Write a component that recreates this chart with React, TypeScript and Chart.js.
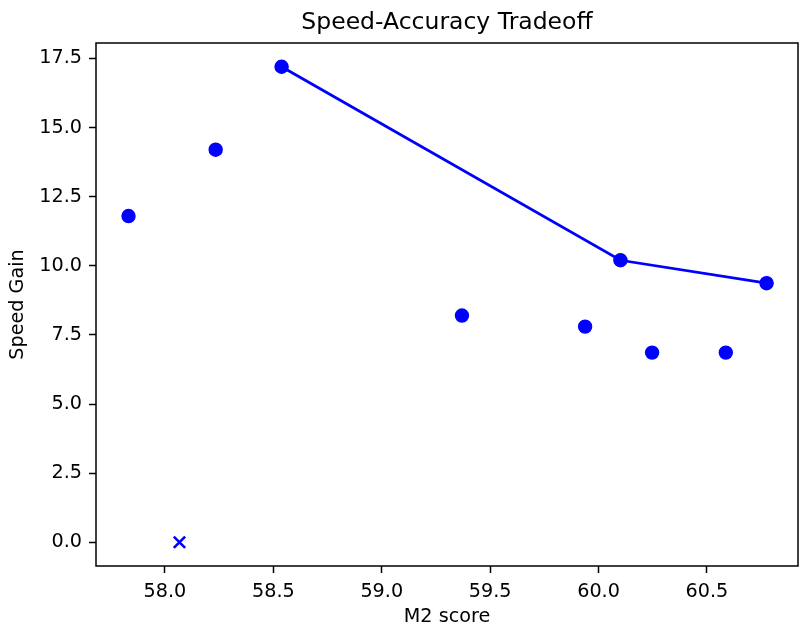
import React, { useEffect, useRef } from "react";
import { Chart, registerables } from "chart.js";

Chart.register(...registerables);

// All measured points (score, speed gain)
const scoreAll = [57.832, 58.234, 58.538, 59.37, 59.938, 60.101, 60.247, 60.587, 60.775];
const gainAll = [11.8, 14.2, 17.2, 8.2, 7.8, 10.2, 6.86, 6.86, 9.37];

// Frontier line
const scoreFront = [58.538, 60.101, 60.775];
const gainFront = [17.2, 10.2, 9.37];

// Baseline marker (x)
const scoreBase = [58.067];
const gainBase = [0];

const xTicks = [58.0, 58.5, 59.0, 59.5, 60.0, 60.5];
const yTicks = [0, 2.5, 5.0, 7.5, 10.0, 12.5, 15.0, 17.5];

const BLUE = "#0000ff";
const FONT = "DejaVu Sans";

export default function App() {
  const ref = useRef<HTMLCanvasElement | null>(null);

  useEffect(() => {
    if (!ref.current) return;
    const framePlugin = {
      id: "frame",
      afterDatasetsDraw(chart: any) {
        const { ctx, chartArea } = chart;
        ctx.save();
        ctx.strokeStyle = "#000";
        ctx.lineWidth = 1.5;
        ctx.strokeRect(chartArea.left, chartArea.top, chartArea.right - chartArea.left, chartArea.bottom - chartArea.top);
        ctx.restore();
      },
    };
    const chart = new Chart(ref.current, {
      type: "scatter",
      data: {
        datasets: [
          {
            type: "line",
            data: scoreFront.map((x, i) => ({ x, y: gainFront[i] })),
            borderColor: BLUE,
            backgroundColor: BLUE,
            borderWidth: 2.8,
            pointRadius: 6.2,
            pointBorderWidth: 1.2,
            pointBackgroundColor: BLUE,
            pointBorderColor: BLUE,
            showLine: true,
            fill: false,
          },
          {
            data: scoreAll.map((x, i) => ({ x, y: gainAll[i] })),
            backgroundColor: BLUE,
            borderColor: BLUE,
            pointRadius: 6.5,
            pointBorderWidth: 1.4,
          },
          {
            data: scoreBase.map((x, i) => ({ x, y: gainBase[i] })),
            backgroundColor: BLUE,
            borderColor: BLUE,
            pointStyle: "crossRot",
            pointRadius: 8,
            pointBorderWidth: 2.6,
          },
        ],
      },
      options: {
        animation: false,
        responsive: false,
        layout: { autoPadding: false, padding: { left: 0, right: 1, top: 0, bottom: 0 } },
        plugins: {
          legend: { display: false },
          tooltip: { enabled: false },
          title: {
            display: true,
            text: "Speed-Accuracy Tradeoff",
            fullSize: false,
            color: "#000",
            font: { family: FONT, size: 23.5, weight: "normal", lineHeight: 1.2 },
            padding: { top: 8.4, bottom: 6.4 },
          },
        },
        scales: {
          x: {
            type: "linear",
            min: 57.682,
            max: 60.92,
            afterBuildTicks: (s: any) => {
              s.ticks = xTicks.map((v) => ({ value: v }));
            },
            afterFit: (s: any) => {
              s.height = 57;
              s.paddingLeft = 0;
              s.paddingRight = 0;
            },
            ticks: {
              color: "#000",
              font: { family: FONT, size: 19.2 },
              padding: 7,
              maxRotation: 0,
              autoSkip: false,
              callback: (v: any) => Number(v).toFixed(1),
            },
            grid: { display: true, drawOnChartArea: false, drawTicks: true, tickLength: 7, tickWidth: 1.5, tickColor: "#000" },
            border: { display: false },
            title: {
              display: true,
              text: "M2 score",
              color: "#000",
              font: { family: FONT, size: 19.2, lineHeight: 0.64 },
              padding: { top: 0, bottom: 0 },
            },
          },
          y: {
            type: "linear",
            min: -0.86,
            max: 18.06,
            afterBuildTicks: (s: any) => {
              s.ticks = yTicks.map((v) => ({ value: v }));
            },
            afterFit: (s: any) => {
              s.width = 96;
              s.paddingTop = 0;
              s.paddingBottom = 0;
            },
            ticks: {
              color: "#000",
              font: { family: FONT, size: 19.2 },
              padding: 7,
              autoSkip: false,
              callback: (v: any) => Number(v).toFixed(1),
            },
            grid: { display: true, drawOnChartArea: false, drawTicks: true, tickLength: 7, tickWidth: 1.5, tickColor: "#000" },
            border: { display: false },
            title: {
              display: true,
              text: "Speed Gain",
              color: "#000",
              font: { family: FONT, size: 19.2, lineHeight: 1.2 },
              padding: { top: 6.9, bottom: 0 },
            },
          },
        },
      },
      plugins: [framePlugin],
    } as any);
    return () => chart.destroy();
  }, []);

  return (
    <div style={{ position: "fixed", left: 0, top: 0, width: 799, height: 623, background: "#fff" }}>
      <canvas ref={ref} width={799} height={623} style={{ display: "block" }} />
    </div>
  );
}
